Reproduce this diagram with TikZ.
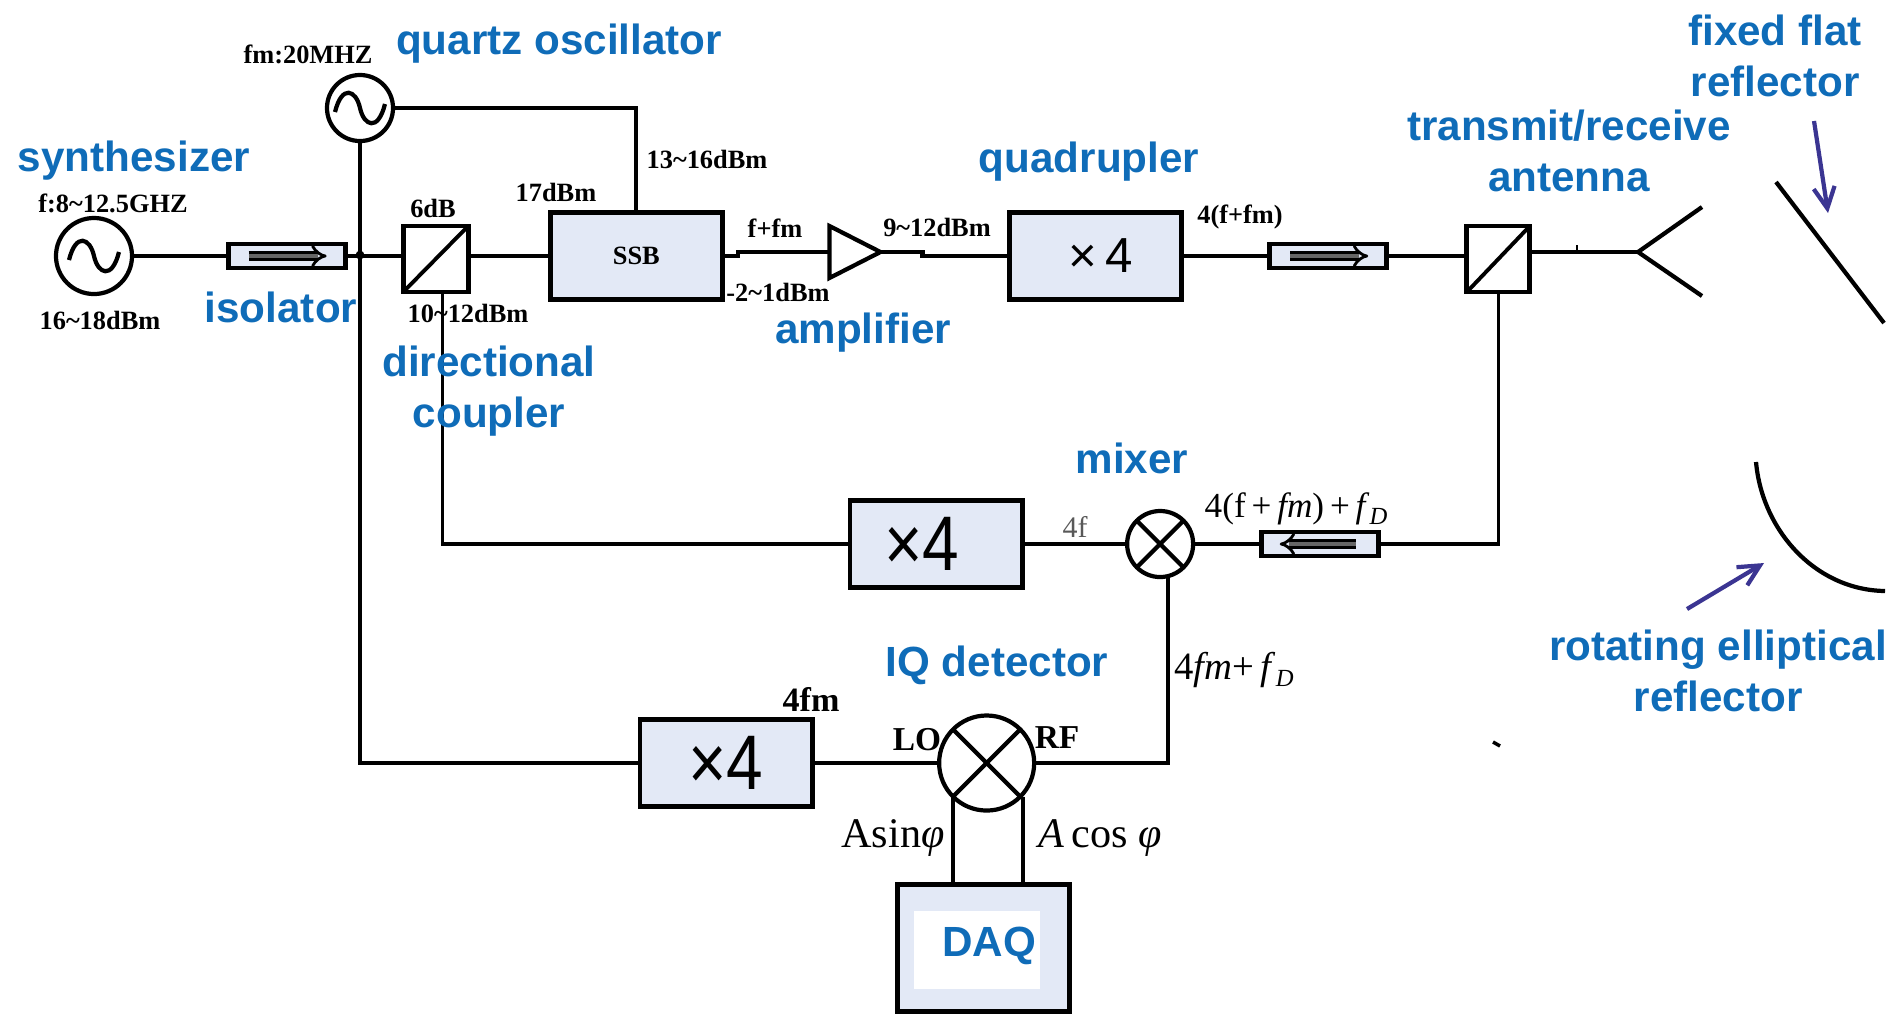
\documentclass[tikz,border=0pt]{standalone}
\usepackage{fontspec}
\setmainfont{Liberation Serif}
\newfontfamily\tagfont{Liberation Sans}
\newfontfamily\multfont[FakeStretch=0.85]{Liberation Sans}
\usetikzlibrary{arrows.meta, positioning, calc, shapes.geometric}
\definecolor{boxblue}{HTML}{E3E9F6}
\definecolor{tagblue}{HTML}{0F6CB8}
\definecolor{arrowblue}{HTML}{3B3592}
\newcommand{\fdop}{\textit{f}\raisebox{-2pt}{\fontsize{7}{7}\selectfont\textit{D}}}
\begin{document}
\begin{tikzpicture}[x=0.01cm, y=-0.01cm, line width=1.2pt, outer sep=0pt, >={Straight Barb[length=6pt,width=6pt]},
  tag/.style={text=tagblue, align=center, inner sep=0pt, font=\tagfont\bfseries\fontsize{12}{14.5}\selectfont},
  lvl/.style={inner sep=0pt, font=\bfseries\fontsize{7.5}{9}\selectfont},
  sig/.style={inner sep=0pt, font=\fontsize{#1}{#1}\selectfont},
  unit/.style={draw, line width=1.4pt, fill=boxblue, inner sep=0pt, minimum width=1.72cm, minimum height=0.87cm},
  mult/.style={unit, font=\multfont\fontsize{22}{22}\selectfont},
  iso/.style={draw, line width=1.4pt, fill=boxblue, inner sep=0pt, minimum width=1.17cm, minimum height=0.24cm},
  flow/.style={double=black!60, double distance=1.3pt, line width=0.8pt, -{Implies}},
  coupler/.style={draw, line width=1.4pt, fill=white, inner sep=0pt, minimum height=0.66cm, yshift=-0.03cm,
    path picture={\draw[line width=1.1pt] (path picture bounding box.south west) -- (path picture bounding box.north east);}},
  source/.style={draw, circle, fill=white, inner sep=0pt, minimum size=#1,
    path picture={\draw[shift={(path picture bounding box.center)}] (-25,4) .. controls (-18,-24) and (-4,-18) .. (0,0) .. controls (4,18) and (18,24) .. (25,-4);}},
  xmix/.style={draw, circle, fill=white, inner sep=0pt, minimum size=#1,
    path picture={\draw (path picture bounding box.south west) -- (path picture bounding box.north east);
      \draw (path picture bounding box.north west) -- (path picture bounding box.south east);}},
  amptri/.style={draw, isosceles triangle, isosceles triangle stretches, inner sep=0pt, minimum width=0.52cm, minimum height=0.51cm},
  junct/.style={circle, fill=black, inner sep=0pt, minimum size=2.5pt}]
\useasboundingbox (0,0) rectangle (1892,1014);
% upper chain
\node[source=0.76cm] (synth) at (94,256) {};
\node[iso, right=0.96cm of synth] (isoa) {};
\node[coupler, minimum width=0.65cm, right=0.58cm of isoa] (cpla) {};
\node[unit, right=0.82cm of cpla, yshift=0.03cm, font=\bfseries\fontsize{7.5}{9}\selectfont] (ssb) {SSB};
\node[amptri, right=1.07cm of ssb, yshift=0.04cm] (amp) {};
\node[unit, right=1.29cm of amp, yshift=-0.04cm, font=\tagfont\fontsize{14}{14}\selectfont] (quad) {\hspace{3pt}×\,4};
\node[iso, right=0.88cm of quad] (isob) {};
\node[coupler, minimum width=0.63cm, right=0.80cm of isob] (cplb) {};
\node[source=0.66cm] (osc) at (360,108) {};
\node[junct] (cross) at (360,255) {};
\coordinate (ant) at (1638,252);
\coordinate (armu) at (1702,207);
\coordinate (armd) at (1702,296);
% lower chain
\node[mult] (xmid) at (936,544) {×4\kern8pt\relax};
\node[xmix=0.66cm, right=1.05cm of xmid] (mix) {};
\node[iso, right=0.68cm of mix] (isoc) {};
\node[mult] (xlow) at (726,763) {×4};
\node[xmix=0.95cm, right=1.27cm of xlow] (iq) {};
\node[unit, minimum height=1.27cm, below=0.74cm of iq, xshift=-0.03cm] (daq) {};
\node[fill=white, inner sep=0pt, minimum width=1.26cm, minimum height=0.78cm] (daqin) at ($(daq)+(-7,2)$) {};
% connectors
\draw (synth) -- (isoa);
\draw (isoa.east) -- (isoa.east -| cpla.west);
\draw (isoa.east -| cpla.east) -- (isoa.east -| ssb.west);
\draw (ssb.east) -- ++(16,0) |- (amp.west);
\draw (amp.east) -- ++(42,0) |- (quad.west);
\draw (quad) -- (isob);
\draw (isob.east) -- (isob.east -| cplb.west);
\draw (cplb.east |- ant) -- (ant);
\draw (ant) -- (armu);
\draw (ant) -- (armd);
\draw[line width=0.7pt] (1577,245) -- (1577,252);
\draw (osc.east) -| (ssb.north);
\draw[line width=1pt] (osc.south) |- (xlow.west);
\draw[line width=1pt] ($(cpla.south)+(7,0)$) |- (xmid.west);
\draw[line width=1pt] (cplb.south) |- (isoc.east);
\draw (isoc) -- (mix);
\draw (xmid) -- (mix);
\draw (xlow) -- (iq);
\draw[line width=1pt] ($(mix.south)+(8,0)$) |- (iq.east);
\draw (iq.south west) -- (iq.south west |- daq.north);
\draw ($(iq.south east)+(3,0)$) -- ($(iq.south east |- daq.north)+(3,0)$);
% arrows inside the isolators
\draw[flow] ($(isoa)+(-38,0)$) -- ($(isoa)+(40,0)$);
\draw[flow] ($(isob)+(-38,0)$) -- ($(isob)+(40,0)$);
\draw[flow] ($(isoc)+(36,0)$) -- ($(isoc)+(-40,0)$);
% reflectors
\coordinate (flata) at (1776,182);
\coordinate (flatb) at (1884,323);
\coordinate (ella) at (1756,462);
\coordinate (ellb) at (1885,591);
\draw (flata) -- (flatb);
\draw (ella) .. controls (1762,530) and (1815,590) .. (ellb);
\coordinate (pflata) at (1814,121);
\coordinate (pflatb) at (1828,213);
\coordinate (pella) at (1687,609);
\coordinate (pellb) at (1764,563);
\draw[->, draw=arrowblue] (pflata) -- (pflatb);
\draw[->, draw=arrowblue] (pella) -- (pellb);
\draw[line width=1pt] (1493,742) -- (1500,746);
% blue names
\node[tag] (tsynth) at (134,161) {synthesizer};
\node[tag] (tosc) at (559,44) {quartz oscillator};
\node[tag] (tisoa) at (281,307) {isolator};
\node[tag] (tcpl) at (489,391) {directional\\coupler};
\node[tag] (tamp) at (863,333) {amplifier};
\node[tag] (tquad) at (1089,162) {quadrupler};
\node[tag] (tant) at (1569,151) {transmit/receive\\antenna};
\node[tag] (tflat) at (1775,56) {fixed flat\\reflector};
\node[tag] (tell) at (1718,671) {rotating elliptical\\reflector};
\node[tag] (tmix) at (1132,458) {mixer};
\node[tag] (tiq) at (997,665) {IQ detector};
\node[tag] (tdaq) at (989,946) {DAQ};
% levels and signals
\node[lvl] (lsyn) at (113,203) {f:8\textasciitilde12.5GHZ};
\node[lvl] (lsyp) at (100,320) {16\textasciitilde18dBm};
\node[lvl] (losc) at (308,54) {fm:20MHZ};
\node[lvl] (lcpl) at (433,208) {6dB};
\node[lvl] (lssb) at (556,192) {17dBm};
\node[lvl] (llo) at (707,159) {13\textasciitilde16dBm};
\node[lvl] (lcpo) at (468,313) {10\textasciitilde12dBm};
\node[lvl] (lsum) at (775,228) {f+fm};
\node[lvl] (lamp) at (937,227) {9\textasciitilde12dBm};
\node[lvl] (lssbo) at (778,292) {-2\textasciitilde1dBm};
\node[lvl] (lquad) at (1240,217) {4(f+fm)};
\node[sig=8.5, text=black!65] (lfour) at (1075,527) {4f};
\node[sig=10] (lrx) at (1296,509) {4(f\,+\,\textit{fm})\,+\,\fdop};
\node[sig=11] (lif) at (1234,670) {4\textit{fm}+\,\fdop};
\node[lvl, font=\bfseries\fontsize{9.7}{11}\selectfont] (lfm) at (811,699) {4fm};
\node[lvl, font=\bfseries\fontsize{9.5}{11}\selectfont] (llop) at (917,740) {LO};
\node[lvl, font=\bfseries\fontsize{9.5}{11}\selectfont] (lrf) at (1057,738) {RF};
\node[sig=12] (lsin) at (893,838) {Asin\textit{φ}};
\node[sig=12] (lcos) at (1100,838) {\textit{A}\,cos \textit{φ}};
\end{tikzpicture}
\end{document}
